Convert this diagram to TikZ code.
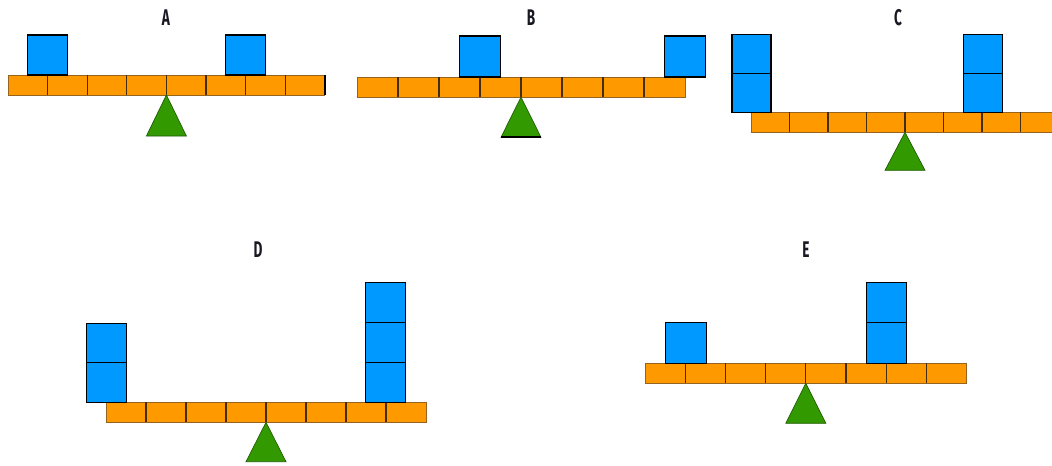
\documentclass[tikz,border=0pt]{standalone}
\usepackage{fontspec}
\setsansfont{Fira Sans}
\definecolor{beamfill}{RGB}{255,153,0}
\definecolor{beamline}{RGB}{150,100,30}
\definecolor{divline}{RGB}{70,45,10}
\definecolor{blockfill}{RGB}{0,153,255}
\definecolor{fulcfill}{RGB}{51,153,0}
\definecolor{fulcline}{RGB}{30,90,0}
\definecolor{labelcol}{RGB}{25,25,35}
\newcommand\seesaw[5]{% #1 x0, #2 top y, #3 cell width, #4 fulcrum height
  \fill[beamfill] (#1,#2) rectangle ({#1+8*#3},{#2+20});
  \draw[beamedge] (#1,#2) rectangle ({#1+8*#3},{#2+20});
  \foreach \k in {1,...,7} \draw[divider] ({#1+\k*#3},#2) -- ({#1+\k*#3},{#2+20});
  \draw[fulcrum] ({#1+4*#3},{#2+20}) -- ({#1+4*#3-20},{#2+20+#4}) -- ({#1+4*#3+20},{#2+20+#4}) -- cycle;
}
\newcommand\blockstack[4]{% #1 centre x, #2 bottom y, #3 count, #4 size
  \foreach \j in {1,...,#3} \draw[blockbox] ({#1-#4/2},{#2-\j*#4}) rectangle ({#1+#4/2},{#2-\j*#4+#4});
}
\tikzset{
  beamedge/.style={draw=beamline, line width=0.5pt},
  divider/.style={draw=divline, line width=0.8pt},
  fulcrum/.style={fill=fulcfill, draw=fulcline, line width=0.5pt},
  blockbox/.style={fill=blockfill, draw=black, line width=0.8pt},
  panellabel/.style={font=\sffamily\bfseries\fontsize{17}{17}\selectfont, text=labelcol, xscale=0.6, inner sep=0pt}
}
\begin{document}
\begin{tikzpicture}[x=0.75pt, y=-0.75pt]
\clip (0,0) rectangle (1052,465);
\fill[white] (0,0) rectangle (1052,465);
% A
\seesaw{8}{75}{39.6}{41}{}
\draw[black, line width=1.5pt] (324.8,75) -- (324.8,95);
\blockstack{47.6}{75}{1}{40}
\blockstack{245.6}{75}{1}{40}
\node[panellabel] (labA) at (166,18) {A};
% B
\seesaw{357}{77}{41}{40.3}{}
\draw[black, line width=1.3pt] (501,137.3) -- (541,137.3);
\blockstack{480}{77}{1}{41}
\blockstack{685}{77}{1}{41}
\node[panellabel] (labB) at (531,18) {B};
% C
\seesaw{751}{112.3}{38.5}{38}{}
\blockstack{751.5}{112.3}{2}{39}
\blockstack{983}{112.3}{2}{39}
\node[panellabel] (labC) at (898,18) {C};
% D
\seesaw{106}{402.3}{40}{39.4}{}
\blockstack{106.3}{402.3}{2}{39.5}
\blockstack{385.7}{402.3}{3}{40}
\node[panellabel] (labD) at (258,250) {D};
% E
\seesaw{645}{363.3}{40.2}{40}{}
\blockstack{685.8}{363.3}{1}{40.5}
\blockstack{886.4}{363.3}{2}{40.5}
\node[panellabel] (labE) at (806,250) {E};
\end{tikzpicture}
\end{document}
